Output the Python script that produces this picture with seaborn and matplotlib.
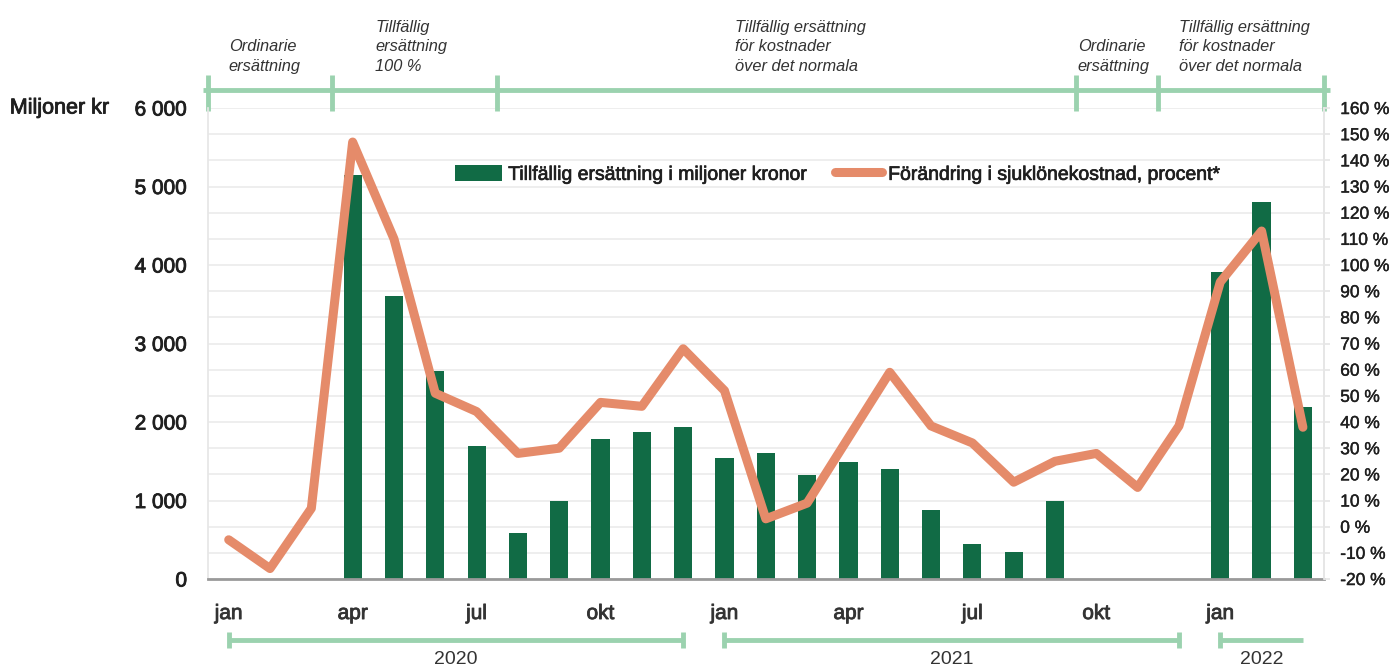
import numpy as np
import pandas as pd
import matplotlib
matplotlib.use("Agg")
import matplotlib.pyplot as plt
import matplotlib.transforms as mtransforms
import matplotlib.patheffects as pe
from matplotlib.patches import Patch
from matplotlib.lines import Line2D
import seaborn as sns

# Monthly data, Jan 2020 - Mar 2022
months = [str(p) for p in pd.period_range("2020-01", periods=27, freq="M")]
month_names = ["jan", "feb", "mar", "apr", "maj", "jun",
               "jul", "aug", "sep", "okt", "nov", "dec"]
ersattning = [np.nan, np.nan, np.nan, 5150, 3600, 2650, 1700, 580, 1000,
              1780, 1870, 1940, 1540, 1600, 1320, 1490, 1400, 880, 450, 340,
              1000, np.nan, np.nan, np.nan, 3910, 4800, 2190]
sjuklon_pct = [-5, -16, 7, 147, 110, 51, 44, 28, 30, 47.5, 46, 68, 52, 3, 9,
               34, 59, 38.5, 32, 17, 25, 28, 15, 38.5, 93.5, 113, 38]

phase_edges = [-0.5, 2.5, 6.5, 20.5, 22.5, 26.5]
phase_label_x = [0, 3.55, 12.25, 20.55, 23.0]
phase_labels = ["Ordinarie\nersättning",
                "Tillfällig\nersättning\n100 %",
                "Tillfällig ersättning\nför kostnader\növer det normala",
                "Ordinarie\nersättning",
                "Tillfällig ersättning\nför kostnader\növer det normala"]
years = ["2020", "2021", "2022"]
year_start = [0, 12, 24]
year_end = [11, 23, 26]

GREEN = "#116b45"
ORANGE = "#e58b6a"
LIGHT_GREEN = "#9bd2af"
TEXT = "#1f1f1f"

sns.set_theme(style="white")
plt.rcParams["font.family"] = ["Liberation Sans", "DejaVu Sans"]


def thicken(texts, color, w=0.6):
    # slightly heavier text, closer to the medium weight of the original
    for t in texts:
        t.set_path_effects([pe.withStroke(linewidth=w, foreground=color)])


df = pd.DataFrame({"month": months, "value": ersattning,
                   "idx": np.arange(len(months)), "pct": sjuklon_pct})

fig = plt.figure(figsize=(14, 6.66), dpi=100)
ax = fig.add_axes([0.1486, 0.1306, 0.7968, 0.7072])

sns.barplot(data=df, x="month", y="value", order=months, color=GREEN,
            width=0.44, linewidth=0, saturation=1, ax=ax, zorder=2)
ax.set_xlim(-0.5, 26.5)
ax.set_ylim(0, 6000)
ax.set_yticks(np.arange(0, 6001, 1000))
ax.set_yticklabels([f"{v:,}".replace(",", " ") for v in range(0, 6001, 1000)])
ax.set_yticks(np.linspace(0, 6000, 19), minor=True)
ax.grid(True, axis="y", which="both", color="#ebebeb", lw=1.2, zorder=0)
ax.set_axisbelow(True)
ax.tick_params(axis="y", which="both", length=0, labelsize=15,
               labelcolor=TEXT, pad=15)
thicken(ax.get_yticklabels(), TEXT)

ax.set_xticks(np.arange(len(months)))
ax.set_xticklabels([month_names[i % 12] if i % 3 == 0 else ""
                    for i in range(len(months))])
ax.tick_params(axis="x", length=10, width=1.5, color="#9a9a9a", pad=8,
               labelsize=15, labelcolor="#333333")
thicken(ax.get_xticklabels(), "#333333")
ax.set_xlabel("")
ax.set_ylabel("")
for s in ["left", "right"]:
    ax.spines[s].set_color("#e6e6e6")
ax.spines["top"].set_visible(False)
ax.spines["bottom"].set_color("#9a9a9a")
ax.spines["bottom"].set_linewidth(2)

ax2 = ax.twinx()
sns.lineplot(data=df, x="idx", y="pct", color=ORANGE, lw=6.5,
             solid_capstyle="round", ax=ax2)
ax2.set_ylim(-20, 160)
ax2.set_yticks(np.arange(-20, 161, 10))
ax2.set_yticklabels([f"{v} %" for v in range(-20, 161, 10)])
ax2.tick_params(axis="y", length=4, color="#e6e6e6", labelsize=12.5,
                labelcolor=TEXT, pad=8)
thicken(ax2.get_yticklabels(), TEXT, 0.3)
ax2.set_ylabel("")
for s in ["top", "left", "bottom"]:
    ax2.spines[s].set_visible(False)
ax2.spines["right"].set_color("#e6e6e6")

handles = [Patch(facecolor=GREEN, edgecolor="none"),
           Line2D([0], [0], color=ORANGE, lw=6.5, solid_capstyle="round")]
leg = ax2.legend(handles, ["Tillfällig ersättning i miljoner kronor",
                           "Förändring i sjuklönekostnad, procent*"],
                 loc="center left", bbox_to_anchor=(0.2124, 0.859), ncol=2,
                 frameon=False, fontsize=14, handlelength=2.45,
                 handleheight=0.9, handletextpad=0.3, columnspacing=1.3,
                 borderpad=0, labelcolor=TEXT)
thicken(leg.get_texts(), TEXT, 0.5)

lab = fig.text(0.007, 0.8378, "Miljoner kr", ha="left", va="center",
               fontsize=15.5, color=TEXT)
thicken([lab], TEXT)

# phase band at the top
tr = mtransforms.blended_transform_factory(ax.transData, fig.transFigure)
y_band = 1 - 89.5 / 666
ax.plot([phase_edges[0] - 0.12, phase_edges[-1] + 0.15], [y_band, y_band],
        transform=tr, color=LIGHT_GREEN, lw=3.5, clip_on=False,
        solid_capstyle="butt")
for e in phase_edges:
    ax.plot([e, e], [1 - 75 / 666, 1 - 111 / 666], transform=tr,
            color=LIGHT_GREEN, lw=3.5, clip_on=False, solid_capstyle="butt")
for x, t in zip(phase_label_x, phase_labels):
    ax.text(x, 1 - 74 / 666, t, transform=tr, ha="left", va="bottom",
            fontsize=11.8, style="italic", color="#333333", linespacing=1.38)

# year bands at the bottom
y_year = 1 - 640 / 666
for i, (y0, y1, lab) in enumerate(zip(year_start, year_end, years)):
    ax.plot([y0, y1], [y_year, y_year], transform=tr, color=LIGHT_GREEN,
            lw=3.5, clip_on=False, solid_capstyle="butt")
    caps = [y0, y1] if i < len(years) - 1 else [y0]
    for c in caps:
        ax.plot([c, c], [y_year - 8 / 666, y_year + 8 / 666], transform=tr,
                color=LIGHT_GREEN, lw=3.5, clip_on=False,
                solid_capstyle="butt")
    ax.text((y0 + y1) / 2, 1 - 659 / 666, lab, transform=tr, ha="center",
            va="center", fontsize=14, color="#333333")

fig.savefig("out.png", dpi=100)
